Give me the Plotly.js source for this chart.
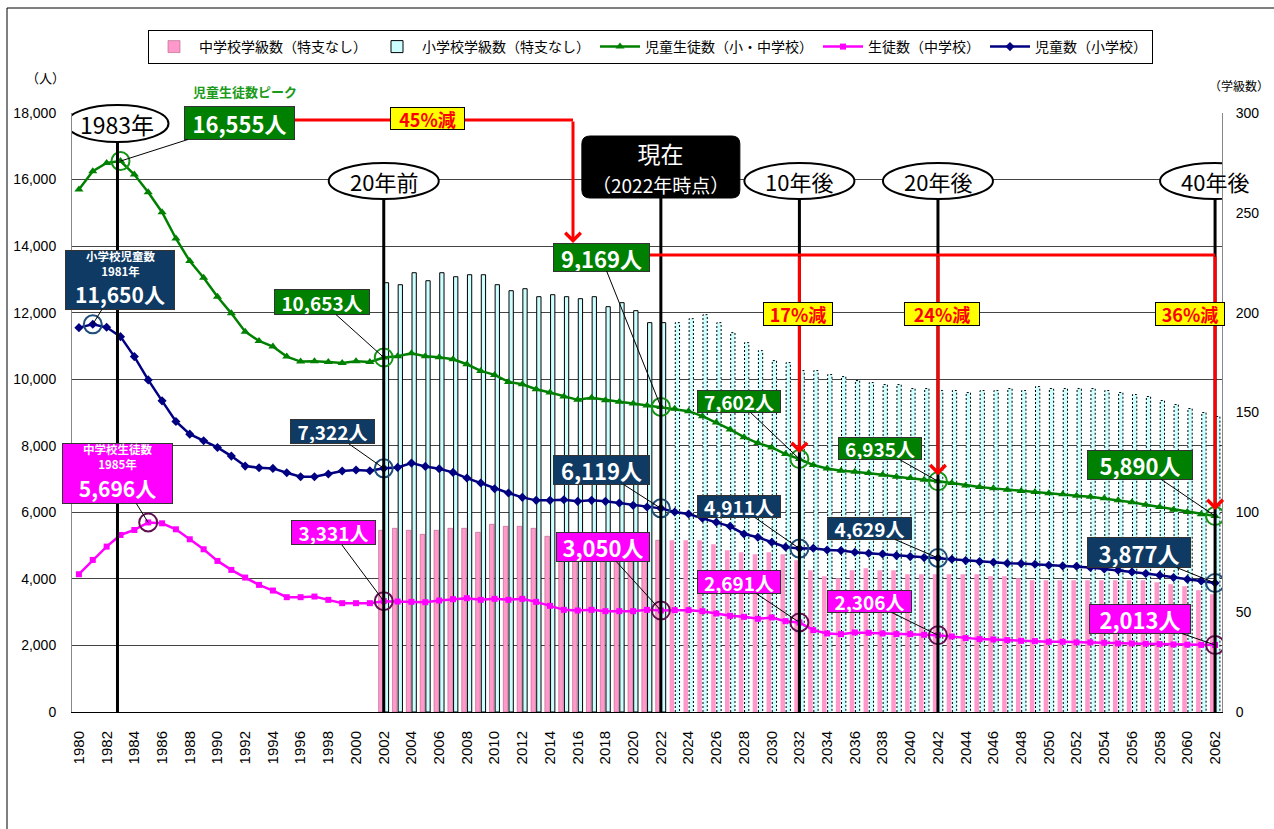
<!DOCTYPE html>
<html><head><meta charset="utf-8">
<script src="https://cdn.plot.ly/plotly-3.0.1.min.js"></script>
<style>html,body{margin:0;padding:0;background:#fff}#chart{width:1274px;height:829px}</style>
</head><body><div id="chart"></div>
<script>
// ---------- DATA ----------
const years = [
 1980,1981,1982,1983,1984,1985,1986,1987,1988,1989,
 1990,1991,1992,1993,1994,1995,1996,1997,1998,1999,
 2000,2001,2002,2003,2004,2005,2006,2007,2008,2009,
 2010,2011,2012,2013,2014,2015,2016,2017,2018,2019,
 2020,2021,2022,2023,2024,2025,2026,2027,2028,2029,
 2030,2031,2032,2033,2034,2035,2036,2037,2038,2039,
 2040,2041,2042,2043,2044,2045,2046,2047,2048,2049,
 2050,2051,2052,2053,2054,2055,2056,2057,2058,2059,
 2060,2061,2062];
// 児童生徒数（小・中学校）
const totalStudents = [
 15700,16250,16500,16555,16150,15620,15020,14230,13550,13050,
 12480,11980,11430,11150,10980,10680,10530,10540,10520,10490,
 10540,10520,10653,10690,10780,10690,10660,10600,10450,10250,
 10130,9920,9850,9700,9600,9480,9380,9440,9370,9320,
 9270,9210,9169,9110,9040,8890,8700,8490,8260,8080,
 7950,7750,7602,7420,7320,7250,7220,7180,7130,7070,
 7030,6980,6935,6880,6810,6760,6720,6680,6640,6610,
 6570,6540,6500,6470,6420,6360,6300,6230,6160,6080,
 6010,5945,5890];
// 児童数（小学校）
const elementaryStudents = [
 11550,11650,11560,11280,10680,9980,9350,8730,8350,8150,
 7950,7690,7390,7340,7320,7190,7070,7070,7150,7240,
 7270,7250,7322,7350,7480,7380,7310,7200,7030,6880,
 6710,6580,6450,6360,6360,6380,6330,6360,6330,6280,
 6210,6160,6119,6010,5950,5820,5700,5580,5350,5250,
 5100,4960,4911,4920,4870,4850,4800,4770,4750,4700,
 4670,4640,4629,4590,4550,4520,4500,4470,4460,4440,
 4410,4390,4380,4340,4300,4260,4210,4160,4110,4040,
 3990,3940,3877];
// 生徒数（中学校）
const juniorStudents = [
 4140,4570,4970,5320,5470,5696,5670,5490,5190,4890,
 4540,4270,4040,3820,3650,3450,3450,3470,3370,3270,
 3270,3270,3331,3320,3310,3300,3350,3390,3420,3370,
 3400,3370,3400,3310,3190,3070,3050,3070,3030,3030,
 3030,3070,3050,3060,3060,3030,2960,2890,2860,2800,
 2840,2730,2691,2460,2360,2340,2390,2380,2360,2340,
 2340,2320,2306,2270,2220,2190,2180,2160,2140,2130,
 2110,2110,2090,2090,2080,2060,2060,2050,2040,2030,
 2025,2018,2013];
const barYears = [
 2002,2003,2004,2005,2006,2007,2008,2009,2010,2011,
 2012,2013,2014,2015,2016,2017,2018,2019,2020,2021,
 2022,2023,2024,2025,2026,2027,2028,2029,2030,2031,
 2032,2033,2034,2035,2036,2037,2038,2039,2040,2041,
 2042,2043,2044,2045,2046,2047,2048,2049,2050,2051,
 2052,2053,2054,2055,2056,2057,2058,2059,2060,2061,
 2062];
// 中学校学級数（特支なし）
const juniorClasses = [
 91,92,91,89,91,92,92,90,94,93,
 93,92,88,88,87,87,86,86,86,86,
 86,86,86,86,84,81,80,79,80,79,
 76,71,68,67,71,72,71,71,69,69,
 69,69,69,69,68,68,67,66,66,66,
 66,66,66,66,66,66,65,64,63,61,
 59];
// 小学校学級数（特支なし）
const elementaryClasses = [
 215,214,220,216,220,218,219,219,214,211,
 212,208,209,208,207,208,203,205,201,195,
 195,195,197,199,195,190,185,181,176,175,
 171,171,169,168,166,165,164,164,162,162,
 161,161,160,161,161,162,161,163,162,162,
 162,162,161,160,159,158,156,154,152,150,
 148];
const xTickYears = [1980,1982,1984,1986,1988,1990,1992,1994,1996,1998,2000,2002,2004,2006,2008,2010,2012,2014,2016,2018,2020,2022,2024,2026,2028,2030,2032,2034,2036,2038,2040,2042,2044,2046,2048,2050,2052,2054,2056,2058,2060,2062];
const currentYear = 2022;
const peakYear = 1983;
const elemPeakYear = 1981;
const juniorPeakYear = 1985;
const milestoneYears = [2002, 2022, 2032, 2042, 2062];

// ---------- helpers ----------
const L = 72, R = 1222, T = 113, B = 712;
const PX = px => (px - L) / (R - L);
const PY = py => (B - py) / (B - T);
const pxYear = yr => L + (yr - 1979.5) * (R - L) / 83;
const pyVal = v => B - v * (B - T) / 18000;
const val = (s, yr) => s[years.indexOf(yr)];
const fmt = v => v.toLocaleString('en-US') + '人';

const GREEN = '#008000', NAVY = '#000080', MAG = '#FF00FF';
const BOXGREEN = '#008000', BOXNAVY = '#0E3A64', BOXMAG = '#FF00FF';
const JP = 'Noto Sans CJK JP, sans-serif';
const NARROW = 'Liberation Sans Narrow, Noto Sans CJK JP, sans-serif';

const PINK_OFF = -0.37, PINK_W = 0.33, CYAN_OFF = 0.04, CYAN_W = 0.31;

// ---------- traces ----------
const traces = [];
traces.push({type:'bar', name:'中学校学級数（特支なし）', x:barYears, y:juniorClasses, xaxis:'x', yaxis:'y',
  offset:PINK_OFF, width:PINK_W,
  marker:{color:'#FF99CC', line:{color:'#B06080', width:barYears.map(y => y <= currentYear ? 0.6 : 0)}}});
traces.push({type:'bar', name:'小学校学級数（特支なし）', x:barYears, y:elementaryClasses, xaxis:'x', yaxis:'y',
  offset:CYAN_OFF, width:CYAN_W,
  marker:{color:'#CCFFFF', line:{color:'#000', width:barYears.map(y => y <= currentYear ? 1 : 0)}}});
const ox = [], oy = [];
barYears.forEach((yr, i) => {
  if (yr > currentYear) {
    const x0 = yr + CYAN_OFF, x1 = x0 + CYAN_W;
    ox.push(x0, x0, x1, x1, null);
    oy.push(0, elementaryClasses[i], elementaryClasses[i], 0, null);
  }
});
traces.push({type:'scatter', mode:'lines', x:ox, y:oy, xaxis:'x', yaxis:'y', showlegend:false,
  line:{color:'#000', width:1, dash:'2px,2px'}});

traces.push({type:'scatter', mode:'lines+markers', name:'児童生徒数（小・中学校）', x:years, y:totalStudents, yaxis:'y2',
  line:{color:GREEN, width:2.5}, marker:{symbol:'triangle-up', size:8, color:GREEN}});
traces.push({type:'scatter', mode:'lines+markers', name:'生徒数（中学校）', x:years, y:juniorStudents, yaxis:'y2',
  line:{color:MAG, width:2.5}, marker:{symbol:'square', size:6, color:MAG}});
traces.push({type:'scatter', mode:'lines+markers', name:'児童数（小学校）', x:years, y:elementaryStudents, yaxis:'y2',
  line:{color:NAVY, width:2.5}, marker:{symbol:'diamond', size:7, color:NAVY}});

const rings = [
  {s:totalStudents, first:peakYear, color:'#149414'},
  {s:elementaryStudents, first:elemPeakYear, color:'#1F4E79'},
  {s:juniorStudents, first:juniorPeakYear, color:'#601050'}
];
rings.forEach(r => {
  const xs = [r.first].concat(milestoneYears);
  traces.push({type:'scatter', mode:'markers', x:xs, y:xs.map(y => val(r.s, y)), yaxis:'y2', showlegend:false,
    marker:{symbol:'circle-open', size:18, color:r.color, line:{width:2, color:r.color}}});
});

// ---------- shapes ----------
const shapes = [];
shapes.push({type:'rect', xref:'paper', yref:'paper', x0:PX(7), x1:PX(1300), y0:PY(850), y1:PY(8),
  line:{color:'#000', width:1}, layer:'below'});
shapes.push({type:'line', xref:'x', xsizemode:'pixel', xanchor:peakYear, x0:-3, x1:-3, yref:'paper', y0:0, y1:PY(130),
  line:{color:'#000', width:3}, layer:'above'});
milestoneYears.forEach(yr => {
  shapes.push({type:'line', xref:'x', x0:yr, x1:yr, yref:'paper', y0:0, y1:PY(181), line:{color:'#000', width:3}, layer:'above'});
});
const baseVal = val(totalStudents, currentYear);
const peakVal = val(totalStudents, peakYear);
shapes.push({type:'line', xref:'paper', yref:'paper', x0:PX(240), x1:PX(573), y0:PY(120), y1:PY(120), line:{color:'#FF0000', width:3}, layer:'above'});
shapes.push({type:'line', xref:'paper', yref:'paper', x0:PX(601), x1:PX(pxYear(2062)), y0:PY(255), y1:PY(255), line:{color:'#FF0000', width:3}, layer:'above'});
shapes.push({type:'circle', xref:'x', xsizemode:'pixel', xanchor:peakYear, x0:-54, x1:48, yref:'paper', y0:PY(142), y1:PY(105),
  fillcolor:'#fff', line:{color:'#000', width:2}, layer:'above'});
milestoneYears.filter(y => y !== currentYear).forEach(yr => {
  shapes.push({type:'circle', xref:'x', xsizemode:'pixel', xanchor:yr, x0:-55, x1:55, yref:'paper', y0:PY(199), y1:PY(163),
    fillcolor:'#fff', line:{color:'#000', width:2}, layer:'above'});
});
shapes.push({type:'path', xref:'x', xsizemode:'pixel', xanchor:currentYear, yref:'paper', ysizemode:'pixel', yanchor:PY(167),
  path:'M -71,-31 L 71,-31 Q 79,-31 79,-23 L 79,23 Q 79,31 71,31 L -71,31 Q -79,31 -79,23 L -79,-23 Q -79,-31 -71,-31 Z',
  fillcolor:'#000', line:{color:'#000', width:1}, layer:'above'});

// ---------- annotations ----------
const ann = [];
function txt(o) { return Object.assign({showarrow:false, xanchor:'center', yanchor:'middle'}, o); }
ann.push(txt({xref:'paper', yref:'paper', x:PX(45), y:PY(77), text:'（人）', font:{size:13, family:JP}}));
ann.push(txt({xref:'paper', yref:'paper', x:PX(1271), xanchor:'right', y:PY(86), text:'（学級数）', font:{size:12, family:JP}}));
ann.push(txt({xref:'paper', yref:'paper', x:PX(245), y:PY(92), text:'<b>児童生徒数ピーク</b>', font:{size:13, family:JP, color:'#1A9A1A'}}));

ann.push(txt({xref:'x', yref:'paper', x:peakYear, xshift:-3, y:PY(124), text:peakYear + '年', font:{size:23, family:NARROW, color:'#000'}}));
milestoneYears.filter(y => y !== currentYear).forEach(yr => {
  const d = yr - currentYear;
  ann.push(txt({xref:'x', yref:'paper', x:yr, y:PY(181), text:Math.abs(d) + '年' + (d < 0 ? '前' : '後'),
    font:{size:22, family:NARROW, color:'#000'}}));
});
ann.push(txt({xref:'x', yref:'paper', x:currentYear, y:PY(167),
  text:'現在<br><span style="font-size:19px">（' + currentYear + '年時点）</span>',
  font:{size:23, family:JP, color:'#fff'}}));

// value labels
function lab(s, yr, color, cx, cy, w, h, fs, valign) {
  const v = val(s, yr);
  ann.push({xref:'x', yref:'y2', x:yr, y:v, text:'<b>' + fmt(v) + '</b>', showarrow:true, arrowhead:0, arrowwidth:1, arrowcolor:'#000',
    ax:cx - pxYear(yr), ay:cy - pyVal(v), bgcolor:color, bordercolor:'#333', borderwidth:1, borderpad:0,
    width:w - 2, height:h - 2, valign:valign || 'middle', font:{size:fs, family:JP, color:'#fff'}});
}
lab(totalStudents, peakYear, BOXGREEN, 239.5, 123, 111, 34, 22);
lab(totalStudents, 2002, BOXGREEN, 322, 302, 96, 26, 19);
lab(elementaryStudents, 2002, BOXNAVY, 332, 432, 85, 25, 19);
lab(juniorStudents, 2002, BOXMAG, 333, 533, 85, 25, 19);
lab(elementaryStudents, elemPeakYear, BOXNAVY, 120, 280, 110, 60, 21, 'bottom');
ann.push(txt({xref:'paper', yref:'paper', x:PX(120), y:PY(263), text:'<b>小学校児童数<br>' + elemPeakYear + '年</b>',
  font:{size:11.5, family:JP, color:'#fff'}}));
lab(juniorStudents, juniorPeakYear, BOXMAG, 117.5, 473.5, 111, 61, 21, 'bottom');
ann.push(txt({xref:'paper', yref:'paper', x:PX(117.5), y:PY(457), text:'<b>中学校生徒数<br>' + juniorPeakYear + '年</b>',
  font:{size:11.5, family:JP, color:'#fff'}}));
lab(totalStudents, 2022, BOXGREEN, 601, 257, 97, 29, 22);
lab(elementaryStudents, 2022, BOXNAVY, 601, 470, 97, 30, 22);
lab(juniorStudents, 2022, BOXMAG, 603, 547, 94, 30, 22);
lab(totalStudents, 2032, BOXGREEN, 739, 401.5, 84, 23, 19);
lab(elementaryStudents, 2032, BOXNAVY, 739, 506.5, 84, 23, 19);
lab(juniorStudents, 2032, BOXMAG, 739, 582, 84, 24, 19);
lab(totalStudents, 2042, BOXGREEN, 880, 448.5, 84, 23, 19);
lab(elementaryStudents, 2042, BOXNAVY, 869.5, 528.5, 85, 23, 19);
lab(juniorStudents, 2042, BOXMAG, 869.5, 601.5, 85, 23, 19);
lab(totalStudents, 2062, BOXGREEN, 1140, 465, 106, 30, 22);
lab(elementaryStudents, 2062, BOXNAVY, 1139, 552.5, 104, 31, 22);
lab(juniorStudents, 2062, BOXMAG, 1140, 619, 102, 30, 22);

// red arrows
ann.push({xref:'paper', yref:'paper', x:PX(573), y:PY(243), ax:0, ay:-123, text:'', showarrow:true,
  arrowhead:4, arrowsize:1, arrowwidth:3, arrowcolor:'#FF0000'});
[2032, 2042, 2062].forEach(yr => {
  const v = val(totalStudents, yr);
  ann.push({xref:'x', yref:'y2', x:yr, y:v, ax:0, ay:255 - pyVal(v), standoff:6, text:'', showarrow:true,
    arrowhead:4, arrowsize:1, arrowwidth:3, arrowcolor:'#FF0000'});
});
function pct(v, base) { return '<b>' + Math.round((1 - v / base) * 100) + '%減</b>'; }
function ybox(text, cx, cy, w, h) {
  ann.push(txt({xref:'paper', yref:'paper', x:PX(cx), y:PY(cy), text:text, bgcolor:'#FFFF00',
    bordercolor:'#000', borderwidth:1, borderpad:0, width:w - 2, height:h - 2, font:{size:18, family:JP, color:'#FF0000'}}));
}
ybox(pct(baseVal, peakVal), 427, 119, 75, 23);
ybox(pct(val(totalStudents, 2032), baseVal), 798, 313.5, 70, 24);
ybox(pct(val(totalStudents, 2042), baseVal), 942, 313.5, 76, 24);
ybox(pct(val(totalStudents, 2062), baseVal), 1190, 313.5, 70, 24);

// ---------- layout ----------
const layout = {
  width:1274, height:829,
  margin:{l:L, r:1274 - R, t:T, b:829 - B, pad:0},
  paper_bgcolor:'#fff', plot_bgcolor:'rgba(0,0,0,0)',
  barmode:'overlay', hovermode:false,
  font:{family:'Liberation Sans, Noto Sans CJK JP, sans-serif', size:14, color:'#000'},
  xaxis:{range:[1979.5, 2062.5], tickmode:'array', tickvals:xTickYears, ticktext:xTickYears.map(String), tickangle:-90,
    showgrid:false, showline:true, linecolor:'#000', linewidth:1, zeroline:false, ticks:'', ticklabelstandoff:12,
    tickfont:{size:15, family:'Liberation Sans, sans-serif'}},
  yaxis:{side:'right', range:[0, 300], tickvals:[0,50,100,150,200,250,300], showgrid:false, showline:true,
    linecolor:'#888', zeroline:false, ticks:'', ticklabelstandoff:10, tickfont:{size:14, family:'Liberation Sans, sans-serif'}},
  yaxis2:{overlaying:'y', side:'left', range:[0, 18000], tickvals:[0,2000,4000,6000,8000,10000,12000,14000,16000,18000],
    tickformat:',d', showgrid:true, gridcolor:'#444', gridwidth:1, showline:true, linecolor:'#888', zeroline:false,
    ticks:'', ticklabelstandoff:12, tickfont:{size:14, family:'Liberation Sans, sans-serif'}},
  legend:{orientation:'h', x:PX(148), y:PY(30), xanchor:'left', yanchor:'top', bordercolor:'#000', borderwidth:1,
    bgcolor:'#fff', font:{size:14, family:JP}, traceorder:'normal', itemwidth:40},
  shapes:shapes, annotations:ann
};
Plotly.newPlot('chart', traces, layout, {displayModeBar:false, staticPlot:true});
</script></body></html>
